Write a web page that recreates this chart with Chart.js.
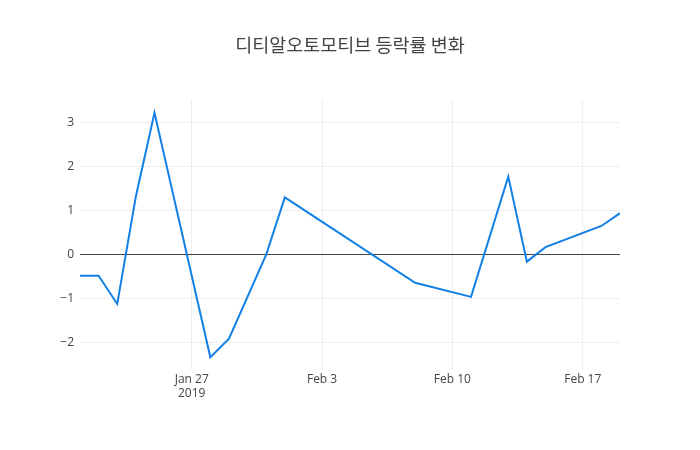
<!DOCTYPE html>
<html>
<head>
<meta charset="utf-8">
<script src="https://cdn.jsdelivr.net/npm/chart.js@4"></script>
<style>
  html, body { margin: 0; padding: 0; background: #fff; }
  #wrap { width: 700px; height: 450px; }
</style>
</head>
<body>
<div id="wrap"><canvas id="chart"></canvas></div>
<script>
// trading days as offsets from 2019-01-21
const dates = ['2019-01-21', '2019-01-22', '2019-01-23', '2019-01-24', '2019-01-25',
    '2019-01-28', '2019-01-29', '2019-01-31', '2019-02-01', '2019-02-08',
    '2019-02-11', '2019-02-13', '2019-02-14', '2019-02-15', '2019-02-18', '2019-02-19'];
const changes = [-0.48, -0.48, -1.12, 1.32, 3.22,
    -2.33, -1.91, 0.0, 1.30, -0.64,
    -0.96, 1.77, -0.16, 0.17, 0.65, 0.94];
const tickDates = ['2019-01-27', '2019-02-03', '2019-02-10', '2019-02-17'];
const tickLabels = [['Jan 27', '2019'], 'Feb 3', 'Feb 10', 'Feb 17'];
const yTicks = [-2, -1, 0, 1, 2, 3];

const start = Date.UTC(2019, 0, 21);
const toDay = s => (Date.parse(s + 'T00:00:00Z') - start) / 86400000;
const tickDays = tickDates.map(toDay);

const ctx = document.getElementById('chart').getContext('2d');
new Chart(ctx, {
    type: 'line',
    data: {
        datasets: [{
            label: '등락률',
            data: dates.map((d, i) => ({ x: toDay(d), y: changes[i] })),
            borderColor: '#1380e6',
            borderWidth: 2,
            pointRadius: 0,
            tension: 0,
            fill: false
        }]
    },
    options: {
        responsive: true,
        maintainAspectRatio: false,
        animation: false,
        layout: { padding: { left: 0, right: 0, top: 34, bottom: 0 } },
        plugins: {
            legend: { display: false },
            tooltip: { enabled: false },
            title: {
                display: true,
                text: '디티알오토모티브 등락률 변화',
                color: '#444',
                font: { family: '"Noto Sans CJK KR", "Open Sans", sans-serif', size: 18.5, weight: 'normal' },
                padding: { top: 0, bottom: 43.8 }
            }
        },
        scales: {
            x: {
                type: 'linear',
                min: 0,
                max: 29,
                afterBuildTicks: scale => {
                    scale.ticks = tickDays.map(v => ({ value: v }));
                },
                afterFit: scale => { scale.height = 80; },
                ticks: {
                    color: '#444',
                    font: { family: '"Open Sans", sans-serif', size: 12 },
                    padding: 2,
                    maxRotation: 0,
                    callback: v => tickLabels[tickDays.indexOf(v)]
                },
                grid: { color: '#eee', drawTicks: false },
                border: { display: false }
            },
            y: {
                min: -2.62,
                max: 3.51,
                afterBuildTicks: scale => {
                    scale.ticks = yTicks.map(v => ({ value: v }));
                },
                afterFit: scale => { scale.width = 80; },
                ticks: {
                    color: '#444',
                    font: { family: '"Open Sans", sans-serif', size: 12 },
                    padding: 6,
                    callback: v => v < 0 ? '\u2212' + Math.abs(v) : String(v)
                },
                grid: {
                    color: c => c.tick && c.tick.value === 0 ? '#444' : '#eee',
                    drawTicks: false
                },
                border: { display: false }
            },
            // empty right axis, only reserves the right margin
            yRight: {
                position: 'right',
                min: 0,
                max: 1,
                afterFit: scale => { scale.width = 80; },
                ticks: { display: false },
                grid: { display: false },
                border: { display: false }
            }
        }
    }
});
</script>
</body>
</html>
